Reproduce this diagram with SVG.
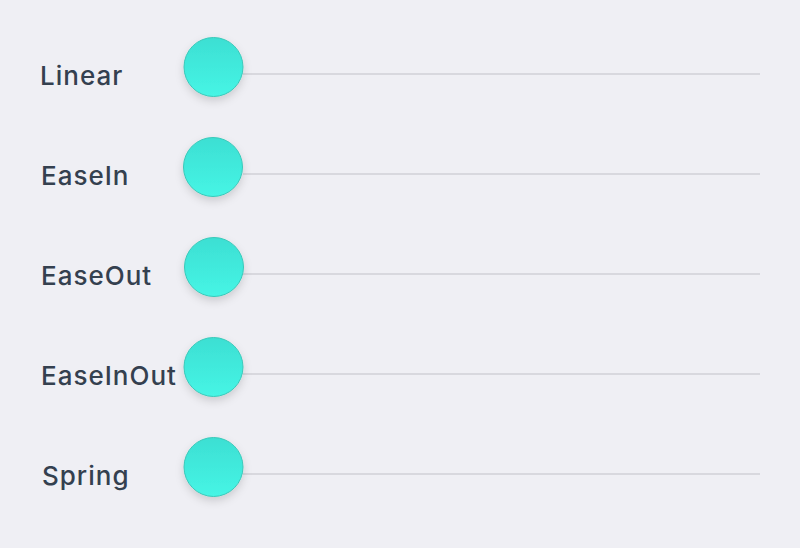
<svg xmlns="http://www.w3.org/2000/svg" width="800" height="548" viewBox="0 0 800 548">
<style>
.lbl{font-family:Inter,"Liberation Sans",Arial,sans-serif;font-size:26px;font-weight:500;letter-spacing:1px;fill:#34404f}
.track{stroke:#d8d8de;stroke-width:2}
.knob{fill:url(#g);stroke:#38c9b9;stroke-width:1;filter:url(#sh)}
</style>
<defs>
<linearGradient id="g" x1="0" y1="0" x2="0" y2="1">
<stop offset="0" stop-color="#3cdfd3"/>
<stop offset="1" stop-color="#46f5e5"/>
</linearGradient>
<filter id="sh" x="-50%" y="-50%" width="200%" height="200%">
<feDropShadow dx="0" dy="4" stdDeviation="4" flood-color="#000" flood-opacity="0.15"/>
</filter>
</defs>
<rect width="800" height="548" fill="#efeff4"/>
<g id="connectors">
<line class="track" x1="243" y1="74" x2="760" y2="74"/>
<line class="track" x1="243" y1="174" x2="760" y2="174"/>
<line class="track" x1="243" y1="274" x2="760" y2="274"/>
<line class="track" x1="243" y1="374" x2="760" y2="374"/>
<line class="track" x1="243" y1="474" x2="760" y2="474"/>
</g>
<g id="linear"><text class="lbl" x="40" y="85">Linear</text><circle class="knob" cx="213.5" cy="67" r="29.5"/></g>
<g id="easein"><text class="lbl" x="41" y="185">EaseIn</text><circle class="knob" cx="213" cy="167" r="29.5"/></g>
<g id="easeout"><text class="lbl" x="41" y="285">EaseOut</text><circle class="knob" cx="214" cy="267" r="29.5"/></g>
<g id="easeinout"><text class="lbl" x="41" y="385">EaseInOut</text><circle class="knob" cx="213.5" cy="367" r="29.5"/></g>
<g id="spring"><text class="lbl" x="42" y="485">Spring</text><circle class="knob" cx="213.5" cy="467" r="29.5"/></g>
</svg>
